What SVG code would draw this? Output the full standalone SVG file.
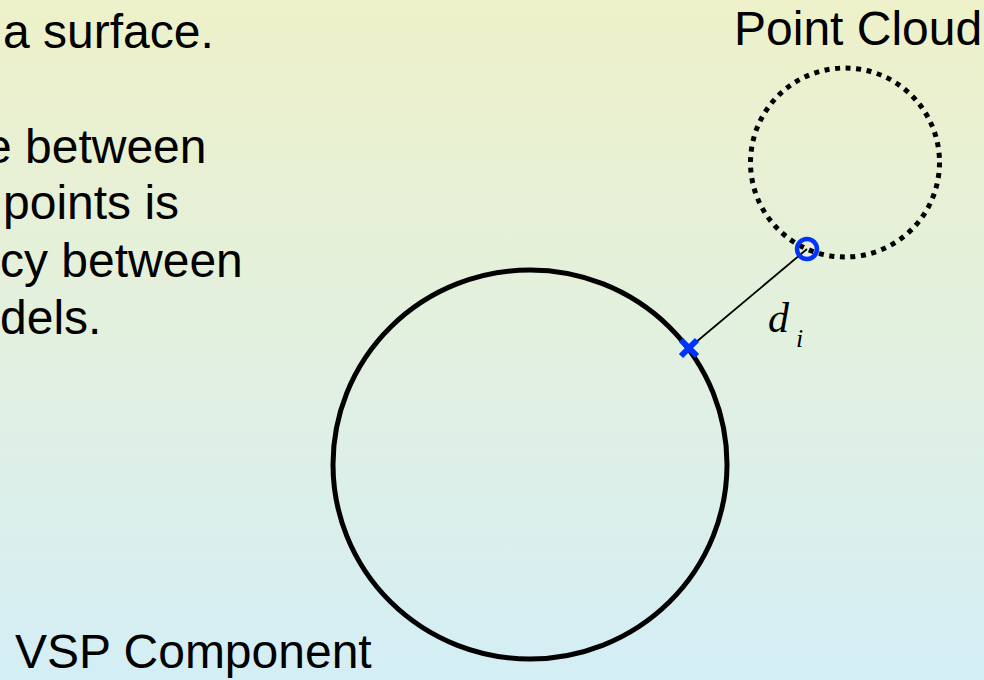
<svg xmlns="http://www.w3.org/2000/svg" width="984" height="680" viewBox="0 0 984 680">
  <defs>
    <linearGradient id="bg" x1="0" y1="0" x2="0" y2="1">
      <stop offset="0" stop-color="#EEF1C9"/>
      <stop offset="0.5" stop-color="#E2F0DF"/>
      <stop offset="1" stop-color="#D4EEF6"/>
    </linearGradient>
    <style>
      .t { font-family: "Liberation Sans", Arial, sans-serif; font-size: 48px; fill: #000; }
      .m { font-family: "Liberation Serif", "Times New Roman", serif; font-style: italic; fill: #000; }
      .blue { stroke: #0033FF; fill: none; }
    </style>
  </defs>
  <rect x="0" y="0" width="984" height="680" fill="url(#bg)"/>

  <g id="body-text">
    <text class="t" x="3" y="48">a surface.</text>
    <text class="t" x="-15" y="163">e between</text>
    <text class="t" x="3" y="219">points is</text>
    <text class="t" x="0" y="277">cy between</text>
    <text class="t" x="0" y="334">dels.</text>
  </g>

  <g id="vsp-component">
    <ellipse cx="530" cy="464.5" rx="197" ry="194.5" fill="none" stroke="#000" stroke-width="5"/>
    <text class="t" x="15" y="668">VSP Component</text>
  </g>

  <g id="point-cloud">
    <circle cx="845" cy="162.5" r="94.5" fill="none" stroke="#000" stroke-width="5" stroke-dasharray="5 5.6"/>
    <text class="t" x="734" y="45">Point Cloud</text>
  </g>

  <g id="connectors">
    <line x1="689" y1="348" x2="807" y2="249" stroke="#000" stroke-width="1.8"/>
  </g>

  <g id="cloud-point">
    <circle class="blue" cx="807" cy="249" r="10" stroke-width="4.5"/>
  </g>

  <g id="surface-point">
    <path class="blue" d="M681 340 L697 356 M681 356 L697 340" stroke-width="6"/>
  </g>

  <g id="distance-label">
    <text class="m" x="768" y="332" font-size="42">d</text>
    <text class="m" x="796" y="347" font-size="26">i</text>
  </g>
</svg>
